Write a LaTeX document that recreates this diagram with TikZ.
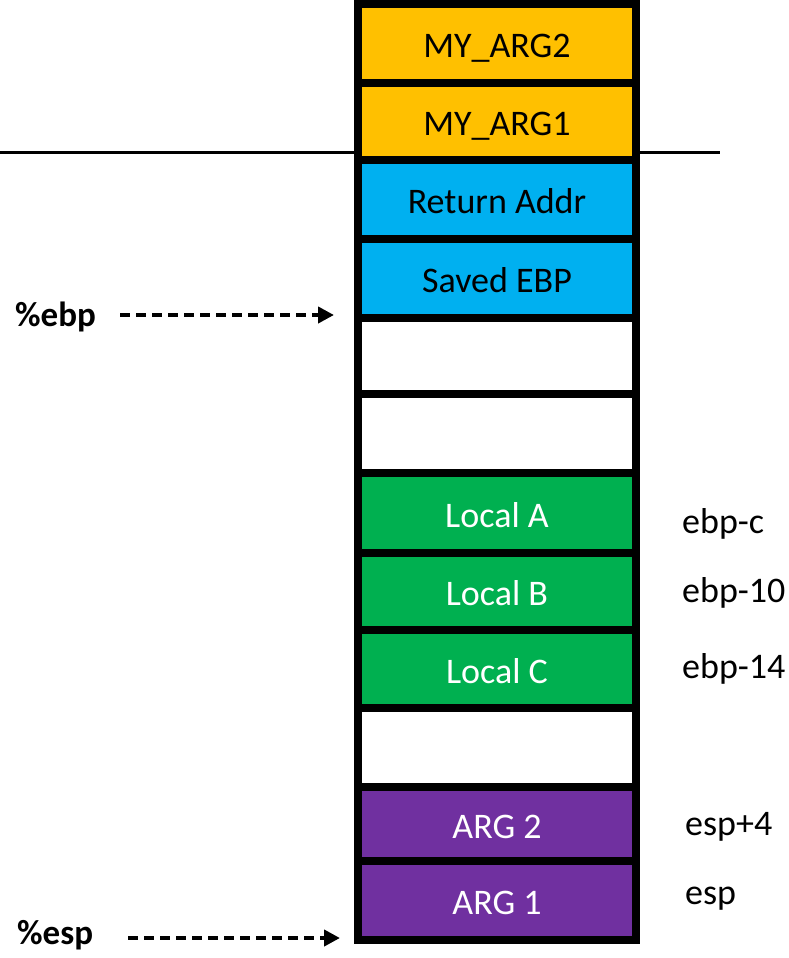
\documentclass[tikz,border=0pt]{standalone}
\usepackage{fontspec}
\setmainfont{Carlito}
\usetikzlibrary{arrows.meta}
\definecolor{cyel}{HTML}{FFC000}
\definecolor{cblu}{HTML}{00B0F0}
\definecolor{cgrn}{HTML}{00B050}
\definecolor{cpur}{HTML}{7030A0}
\tikzset{
  cell/.style={draw=black, line width=8pt, rectangle, inner sep=0pt, outer sep=0pt,
    minimum width=278pt, text height=28pt, text depth=0pt, font=\fontsize{36}{42}\selectfont},
  lbl/.style={inner sep=0pt, font=\fontsize{36}{42}\selectfont, anchor=base west},
  reglbl/.style={inner sep=0pt, font=\fontsize{35}{42}\selectfont\bfseries, anchor=base west},
  ptr/.style={line width=4pt, dash pattern=on 10pt off 6pt, -{Triangle[length=16pt,width=16pt]}},
}
\begin{document}
\begin{tikzpicture}[x=1pt,y=-1pt]
\useasboundingbox (0,0) rectangle (789,958);
% horizontal divider line
\coordinate (hl) at (0,152);
\coordinate (hr) at (720,152);
\draw[line width=3pt] (hl) -- (hr);
% stack cells
\node[cell, fill=cyel, minimum height=79pt] (b1) at (497,43.5) {MY\_ARG2};
\node[cell, fill=cyel, minimum height=77pt] (b2) at (497,121.5) {MY\_ARG1};
\node[cell, fill=cblu, minimum height=79pt] (b3) at (497,199.5) {Return Addr};
\node[cell, fill=cblu, minimum height=79pt] (b4) at (497,278.5) {Saved EBP};
\node[cell, fill=white, minimum height=76pt] (b5) at (497,356) {};
\node[cell, fill=white, minimum height=79pt] (b6) at (497,433.5) {};
\node[cell, fill=cgrn, text=white, minimum height=80pt] (b7) at (497,513) {Local A};
\node[cell, fill=cgrn, text=white, minimum height=77pt] (b8) at (497,591.5) {Local B};
\node[cell, fill=cgrn, text=white, minimum height=78pt] (b9) at (497,669) {Local C};
\node[cell, fill=white, minimum height=79pt] (b10) at (497,747.5) {};
\node[cell, fill=cpur, text=white, minimum height=74pt] (b11) at (497,824) {ARG 2};
\node[cell, fill=cpur, text=white, minimum height=79pt] (b12) at (497,900.5) {ARG 1};
% offset labels
\node[lbl] (oA) at (682,533) {ebp-c};
\node[lbl] (oB) at (682,602) {ebp-10};
\node[lbl] (oC) at (682,678) {ebp-14};
\node[lbl] (oD) at (685,835) {esp+4};
\node[lbl] (oE) at (685,904) {esp};
% register pointers
\node[reglbl] (ebpl) at (15,326) {\%ebp};
\node[reglbl] (espl) at (17,944) {\%esp};
\coordinate (ebps) at (120,315);
\coordinate (ebpt) at (334,315);
\coordinate (esps) at (128,938);
\coordinate (espt) at (340,938);
\draw[ptr] (ebps) -- (ebpt);
\draw[ptr] (esps) -- (espt);
\end{tikzpicture}
\end{document}
